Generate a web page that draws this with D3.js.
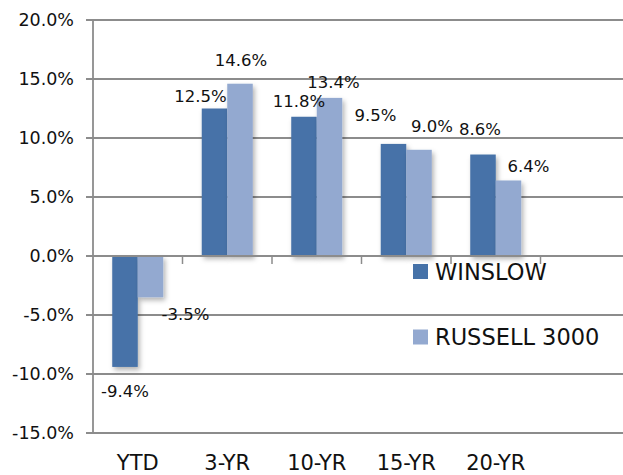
<!DOCTYPE html>
<html>
<head>
<meta charset="utf-8">
<script src="https://cdn.jsdelivr.net/npm/d3@7"></script>
<style>
  html, body { margin: 0; padding: 0; background: #fff; overflow: hidden; }
  svg { display: block; font-family: "DejaVu Sans", sans-serif; }
</style>
</head>
<body>
<svg id="chart" width="623" height="475"></svg>
<script>
// Data
const categories = ["YTD", "3-YR", "10-YR", "15-YR", "20-YR"];
const seriesNames = ["WINSLOW", "RUSSELL 3000"];
const winslow = [-9.4, 12.5, 11.8, 9.5, 8.6];
const russell = [-3.5, 14.6, 13.4, 9.0, 6.4];
const yTicks = [-15, -10, -5, 0, 5, 10, 15, 20];

// Label nudges (px) – labels were hand placed in the original
const winslowLabelShift = [[0, 24], [-14, -12], [-5, -16], [-18, -29], [-3, -25]];
const russellLabelShift = [[35, 17], [1, -24], [4, -16], [13, -24], [20, -14]];

const colors = ["#4672a8", "#93a9d0"];
const grid = "#8c8c8c";

const width = 623, height = 475;
const svg = d3.select("#chart");

const x = d3.scaleBand()
    .domain(categories)
    .range([93, 540.5]);

const y = d3.scaleLinear()
    .domain([-15, 20])
    .range([433, 20]);

const barW = x.bandwidth() * 0.285;

// soft shadow like the office chart
const defs = svg.append("defs");
const f = defs.append("filter").attr("id", "shadow")
    .attr("x", "-30%").attr("y", "-30%").attr("width", "160%").attr("height", "160%");
f.append("feDropShadow")
    .attr("dx", 2).attr("dy", 3)
    .attr("stdDeviation", 2.5)
    .attr("flood-color", "#000")
    .attr("flood-opacity", 0.3);

// gridlines
svg.append("g")
    .selectAll("line")
    .data(yTicks)
    .join("line")
    .attr("x1", 86)
    .attr("x2", width)
    .attr("y1", d => y(d))
    .attr("y2", d => y(d))
    .attr("stroke", grid)
    .attr("stroke-width", 1.8);

// y axis line
svg.append("line")
    .attr("x1", 93).attr("x2", 93)
    .attr("y1", y(20)).attr("y2", y(-15))
    .attr("stroke", grid)
    .attr("stroke-width", 1.8);

// y tick labels
svg.append("g")
    .selectAll("text")
    .data(yTicks)
    .join("text")
    .attr("x", 74)
    .attr("y", d => y(d))
    .attr("dy", "0.36em")
    .attr("text-anchor", "end")
    .attr("font-size", 17.5)
    .attr("fill", "#111")
    .text(d => d.toFixed(1) + "%");

// bars
const groups = [winslow, russell];
groups.forEach((vals, si) => {
    svg.append("g")
        .attr("filter", "url(#shadow)")
        .selectAll("rect")
        .data(vals)
        .join("rect")
        .attr("x", (d, i) => x(categories[i]) + x.bandwidth() / 2 - barW + si * barW)
        .attr("y", d => y(Math.max(0, d)))
        .attr("width", barW)
        .attr("height", d => Math.abs(y(d) - y(0)))
        .attr("fill", colors[si]);
});

// x axis at zero + category ticks
svg.append("line")
    .attr("x1", 93).attr("x2", width)
    .attr("y1", y(0)).attr("y2", y(0))
    .attr("stroke", grid)
    .attr("stroke-width", 1.8);

svg.append("g")
    .selectAll("line")
    .data(categories.slice(1).concat([null]))
    .join("line")
    .attr("x1", d => d ? x(d) : x.range()[1])
    .attr("x2", d => d ? x(d) : x.range()[1])
    .attr("y1", y(0))
    .attr("y2", y(0) + 8)
    .attr("stroke", grid)
    .attr("stroke-width", 1.5);

// data labels
const shifts = [winslowLabelShift, russellLabelShift];
groups.forEach((vals, si) => {
    svg.append("g")
        .selectAll("text")
        .data(vals)
        .join("text")
        .attr("x", (d, i) => x(categories[i]) + x.bandwidth() / 2 - barW / 2 + si * barW + shifts[si][i][0])
        .attr("y", (d, i) => y(d) + shifts[si][i][1])
        .attr("dy", "0.36em")
        .attr("text-anchor", "middle")
        .attr("font-size", 16.5)
        .attr("fill", "#111")
        .text(d => d.toFixed(1) + "%");
});

// category labels
svg.append("g")
    .selectAll("text")
    .data(categories)
    .join("text")
    .attr("x", d => x(d) + x.bandwidth() / 2)
    .attr("y", 469.5)
    .attr("text-anchor", "middle")
    .attr("font-size", 21)
    .attr("fill", "#111")
    .text(d => d);

// legend
const legend = svg.append("g")
    .selectAll("g")
    .data(seriesNames)
    .join("g")
    .attr("transform", (d, i) => `translate(413, ${264 + i * 65.5})`);

legend.append("rect")
    .attr("width", 15)
    .attr("height", 15)
    .attr("fill", (d, i) => colors[i]);

legend.append("text")
    .attr("x", 22)
    .attr("y", 7.5)
    .attr("dy", "0.36em")
    .attr("font-size", 22.5)
    .attr("fill", "#111")
    .text(d => d);
</script>
</body>
</html>
